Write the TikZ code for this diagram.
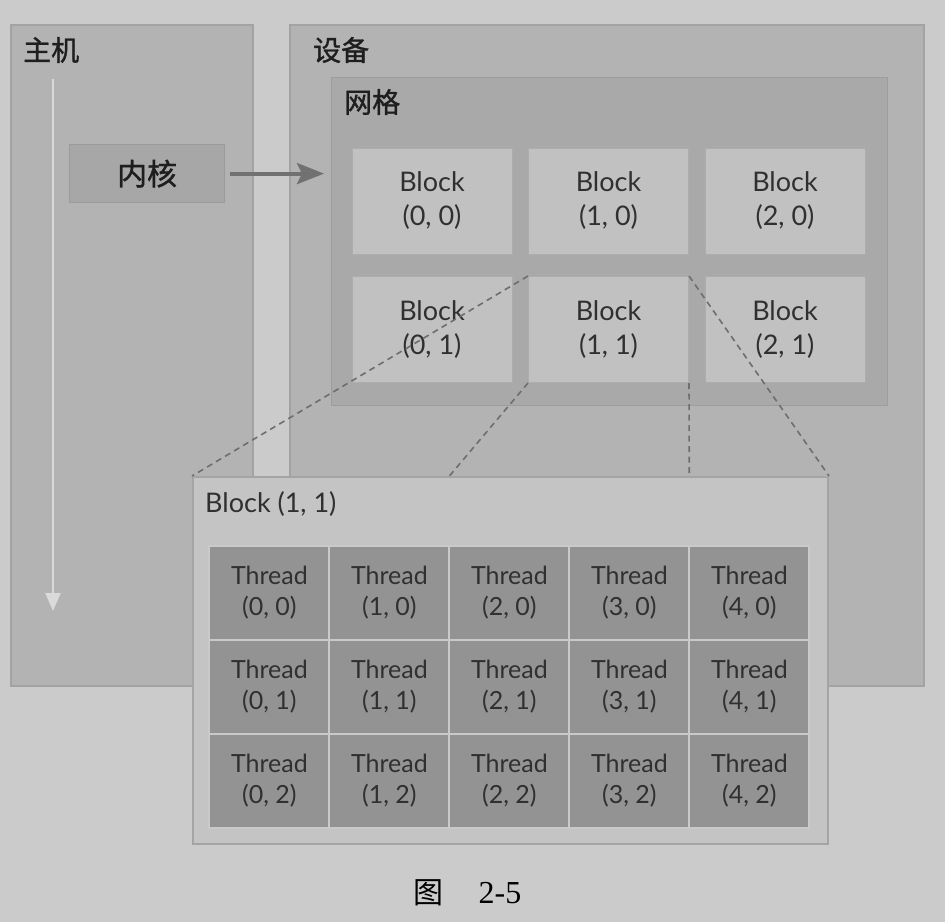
\documentclass[tikz,border=0pt]{standalone}
\usepackage{fontspec}
\setmainfont{Lato}
\newfontfamily\cjk[FakeBold=1.2]{Noto Sans CJK SC}
\newfontfamily\cjkplain{Noto Sans CJK SC}
\newfontfamily\capserif{Liberation Serif}
\usetikzlibrary{arrows.meta}

\definecolor{bgc}{HTML}{CBCBCB}
\definecolor{panelc}{HTML}{B3B3B3}
\definecolor{paneledge}{HTML}{A3A3A3}
\definecolor{gridc}{HTML}{A9A9A9}
\definecolor{gridedge}{HTML}{9D9D9D}
\definecolor{blockc}{HTML}{C1C1C1}
\definecolor{blockedge}{HTML}{ADADAD}
\definecolor{kernelc}{HTML}{A7A7A7}
\definecolor{kerneledge}{HTML}{9B9B9B}
\definecolor{zoomc}{HTML}{C4C4C4}
\definecolor{zoomedge}{HTML}{A4A4A4}
\definecolor{threadc}{HTML}{939393}
\definecolor{threadedge}{HTML}{CACACA}
\definecolor{arrowc}{HTML}{717171}
\definecolor{flowc}{HTML}{DADADA}
\definecolor{dashc}{HTML}{6E6E6E}
\definecolor{txtc}{HTML}{303030}
\definecolor{cjkc}{HTML}{1E1E1E}

\tikzset{
  panel/.style={draw=paneledge, fill=panelc, line width=1.5pt, anchor=north west, inner sep=0pt},
  titletext/.style={font=\cjk\fontsize{28}{30}\selectfont, text=cjkc, inner sep=0pt},
  blockbox/.style={draw=blockedge, fill=blockc, line width=1pt, minimum width=160pt, minimum height=106pt,
    align=center, font=\fontsize{27}{34}\selectfont, text=txtc, inner sep=0pt},
  threadbox/.style={draw=threadedge, fill=threadc, line width=2pt, minimum width=120pt, minimum height=94pt,
    align=center, font=\fontsize{25}{31}\selectfont, text=txtc, inner sep=0pt},
  zoomlink/.style={draw=dashc, line width=1.6pt, dash pattern=on 6pt off 4.5pt},
}

\begin{document}
\begin{tikzpicture}[x=1pt,y=-1pt]
  % canvas
  \fill[bgc] (0,0) rectangle (945,922);
  \useasboundingbox (0,0) rectangle (945,922);

  % host and device panels
  \node[panel, minimum width=242pt, minimum height=661pt] (host) at (10,24) {};
  \node[panel, minimum width=634pt, minimum height=661pt] (device) at (289,24) {};
  \node[titletext, anchor=west] (hostlbl) at (23,50) {主机};
  \node[titletext, anchor=west] (devlbl) at (313,50) {设备};

  % host control flow
  \coordinate (flowtop) at (53,79);
  \coordinate (flowend) at (53,611);
  \draw[flowc, line width=2.2pt, -{Triangle[length=18pt,width=15pt]}] (flowtop) -- (flowend);

  % kernel
  \node[draw=kerneledge, fill=kernelc, line width=1.2pt, minimum width=155pt, minimum height=58pt,
        anchor=north west, inner sep=0pt, font=\cjk\fontsize{30}{32}\selectfont, text=cjkc]
        (kernel) at (69,144) {内核};

  % grid of blocks
  \node[draw=gridedge, fill=gridc, line width=1.2pt, minimum width=556pt, minimum height=328pt,
        anchor=north west, inner sep=0pt] (grid) at (331,77) {};
  \node[titletext, anchor=west] (gridlbl) at (344,102) {网格};

  \foreach \i in {0,1,2} {
    \foreach \j in {0,1} {
      \node[blockbox] (b\i\j) at (432+176.5*\i, 201+128.5*\j) {Block\\(\i, \j)};
    }
  }

  % launch arrow
  \draw[arrowc, line width=4pt, -{Stealth[length=27pt,width=21pt,inset=5pt]}, shorten <=5pt, shorten >=7pt]
    (kernel.east) -- (kernel.east -| grid.west);

  % expanded block
  \node[draw=zoomedge, fill=zoomc, line width=2pt, minimum width=635pt, minimum height=367pt,
        anchor=north west, inner sep=0pt] (blk) at (192,476) {};
  \coordinate (ea) at (449.4,476);
  \coordinate (eb) at (689.3,476);

  % zoom guides
  \draw[zoomlink] (b11.north west) -- (blk.north west);
  \draw[zoomlink] (b11.south west) -- (ea);
  \draw[zoomlink] (b11.south east) -- (eb);
  \draw[zoomlink] (b11.north east) -- (blk.north east);

  \node[anchor=west, inner sep=0pt, font=\fontsize{27}{30}\selectfont, text=txtc] (blklbl) at (205,504) {Block (1, 1)};

  % threads
  \foreach \i in {0,...,4} {
    \foreach \j in {0,1,2} {
      \node[threadbox] (t\i\j) at (269.4+120*\i, 592.5+94*\j) {Thread\\(\i, \j)};
    }
  }

  % caption
  \node[inner sep=0pt, font=\cjkplain\fontsize{30}{32}\selectfont] (capa) at (428,893) {图};
  \node[inner sep=0pt, font=\capserif\fontsize{32}{34}\selectfont] (capb) at (500,893) {2-5};
\end{tikzpicture}
\end{document}
